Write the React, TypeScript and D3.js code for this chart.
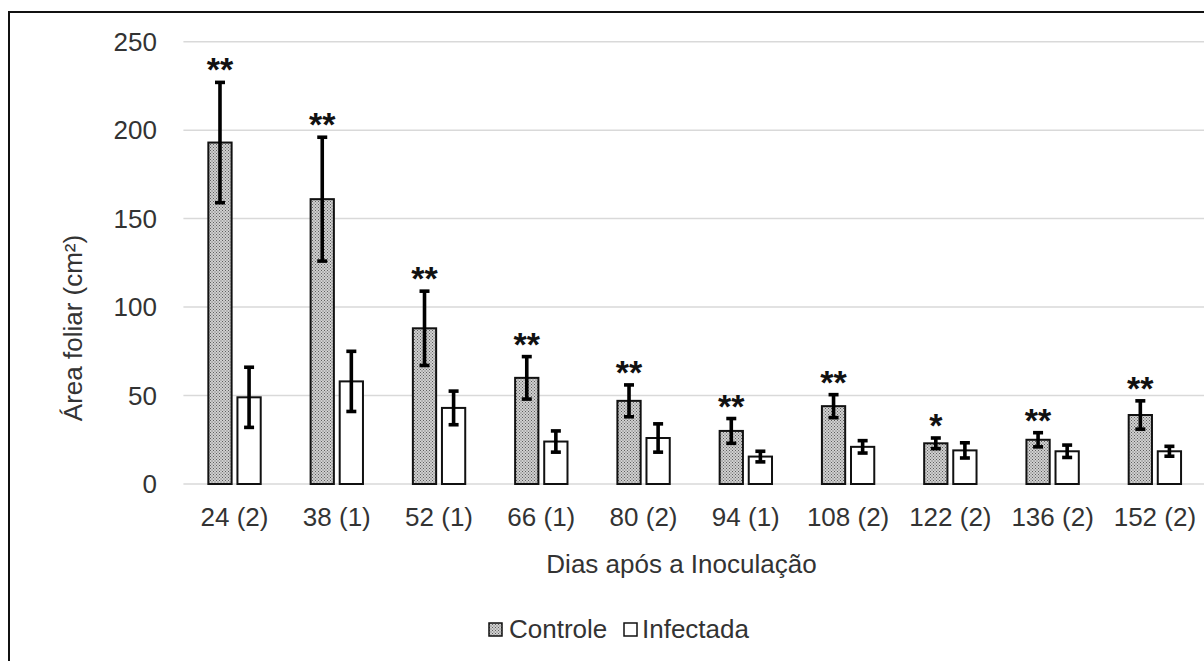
import React from "react";
import * as d3 from "d3";

// Days after inoculation (number of evaluations in parentheses)
const categories = ["24 (2)", "38 (1)", "52 (1)", "66 (1)", "80 (2)", "94 (1)", "108 (2)", "122 (2)", "136 (2)", "152 (2)"];
const seriesNames = ["Controle", "Infectada"];
const controle = [193, 161, 88, 60, 47, 30, 44, 23, 25, 39];
const controleErr = [34, 35, 21, 12, 9, 7, 6.5, 3, 4, 8];
const infectada = [49, 58, 43, 24, 26, 15.5, 21, 19, 18.5, 18.5];
const infectadaErr = [17, 17, 9.5, 6, 8, 3, 3.5, 4.3, 3.5, 2.8];
const significance = ["**", "**", "**", "**", "**", "**", "**", "*", "**", "**"];
const yTicks = [0, 50, 100, 150, 200, 250];

const W = 1204;
const H = 661;
const FONT = "'Liberation Sans', Arial, sans-serif";
const TEXT = "#333333";

export default function App() {
  const x0 = d3.scaleBand<string>().domain(categories).range([183.4, 1206]).paddingInner(0.488).paddingOuter(0.244);
  const x1 = d3.scaleBand<string>().domain(seriesNames).range([0, x0.bandwidth()]).paddingInner(0.2);
  const y = d3.scaleLinear().domain([0, 250]).range([484, 41.7]);

  const series = [
    { name: "Controle", values: controle, errs: controleErr, fill: "url(#hatch)" },
    { name: "Infectada", values: infectada, errs: infectadaErr, fill: "#ffffff" },
  ];
  const capW = 10;

  return (
    <svg width={W} height={H} style={{ position: "fixed", left: 0, top: 0, background: "#fff" }} fontFamily={FONT}>
      <defs>
        <pattern id="hatch" width="3" height="3" patternUnits="userSpaceOnUse">
          <rect width="3" height="3" fill="#d0d0d0" />
          <rect x="0" y="0" width="1" height="1" fill="#5e5e5e" />
          <rect x="1.5" y="1.5" width="1" height="1" fill="#5e5e5e" />
        </pattern>
      </defs>
      <rect x={0} y={0} width={W} height={H} fill="#fff" />
      {/* chart frame */}
      <rect x={9} y={12} width={W + 20} height={H + 20} fill="none" stroke="#111" strokeWidth={2} />

      {/* gridlines */}
      {yTicks.map((t) => (
        <line key={t} x1={183.4} x2={1206} y1={y(t)} y2={y(t)} stroke="#d9d9d9" strokeWidth={1.5} />
      ))}
      {/* y tick labels */}
      {yTicks.map((t) => (
        <text key={"l" + t} x={157} y={y(t)} dy="0.35em" textAnchor="end" fontSize={26} fill={TEXT}>
          {t}
        </text>
      ))}

      {/* bars */}
      {series.map((s) =>
        categories.map((c, i) => {
          const bx = (x0(c) ?? 0) + (x1(s.name) ?? 0);
          const bw = x1.bandwidth();
          return (
            <rect
              key={s.name + c}
              x={bx}
              y={y(s.values[i])}
              width={bw}
              height={y(0) - y(s.values[i])}
              fill={s.fill}
              stroke="#111"
              strokeWidth={2}
            />
          );
        })
      )}

      {/* error bars */}
      {series.map((s) =>
        categories.map((c, i) => {
          const cx = (x0(c) ?? 0) + (x1(s.name) ?? 0) + x1.bandwidth() / 2;
          const top = y(s.values[i] + s.errs[i]);
          const bot = y(s.values[i] - s.errs[i]);
          return (
            <g key={"e" + s.name + c} stroke="#000" strokeWidth={3.6}>
              <line x1={cx} x2={cx} y1={top} y2={bot} />
              <line x1={cx - capW / 2} x2={cx + capW / 2} y1={top} y2={top} />
              <line x1={cx - capW / 2} x2={cx + capW / 2} y1={bot} y2={bot} />
            </g>
          );
        })
      )}

      {/* significance marks above the control bars */}
      {categories.map((c, i) => {
        const cx = (x0(c) ?? 0) + (x1("Controle") ?? 0) + x1.bandwidth() / 2;
        const top = y(controle[i] + controleErr[i]);
        return (
          <text key={"s" + c} x={cx} y={top - 1} textAnchor="middle" fontSize={34} fontWeight="bold" fill="#111">
            {significance[i]}
          </text>
        );
      })}

      {/* x tick labels */}
      {categories.map((c) => (
        <text key={"x" + c} x={(x0(c) ?? 0) + x0.bandwidth() / 2} y={526} textAnchor="middle" fontSize={26} fill={TEXT}>
          {c}
        </text>
      ))}

      {/* axis titles */}
      <text x={681.5} y={573} textAnchor="middle" fontSize={26} fill={TEXT}>
        Dias após a Inoculação
      </text>
      <text transform="translate(82,328) rotate(-90)" textAnchor="middle" fontSize={26} fill={TEXT}>
        Área foliar (cm²)
      </text>

      {/* legend */}
      <rect x={489} y={623} width={13} height={13} fill="url(#hatch)" stroke="#111" strokeWidth={1.5} />
      <text x={509} y={638} fontSize={26} fill={TEXT}>
        Controle
      </text>
      <rect x={624} y={623} width={13} height={13} fill="#fff" stroke="#111" strokeWidth={1.5} />
      <text x={642} y={638} fontSize={26} fill={TEXT}>
        Infectada
      </text>
    </svg>
  );
}
